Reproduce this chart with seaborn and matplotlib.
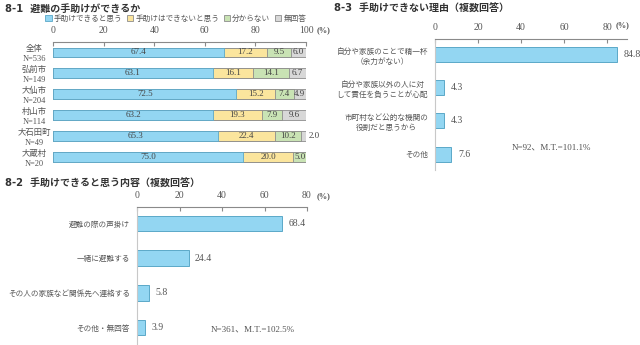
import matplotlib
matplotlib.use("Agg")
import matplotlib.pyplot as plt
from matplotlib.patches import Patch
import numpy as np
import pandas as pd
import seaborn as sns

sns.set_theme(style="white")
plt.rcParams["font.family"] = ["Liberation Serif", "Noto Sans CJK JP", "DejaVu Sans"]

# ---- 8-1 data ----
groups = ["全体\nN=536", "弘前市\nN=149", "大仙市\nN=204",
          "村山市\nN=114", "大石田町\nN=49", "大蔵村\nN=20"]
can_help = [67.4, 63.1, 72.5, 63.2, 65.3, 75.0]
cannot_help = [17.2, 16.1, 15.2, 19.3, 22.4, 20.0]
dont_know = [9.5, 14.1, 7.4, 7.9, 10.2, 5.0]
no_answer = [6.0, 6.7, 4.9, 9.6, 2.0, 0.0]
series_names = ["手助けできると思う", "手助けはできないと思う", "分からない", "無回答"]

# ---- 8-2 data ----
help_items = ["避難の際の声掛け", "一緒に避難する", "その人の家族など関係先へ連絡する", "その他・無回答"]
help_values = [68.4, 24.4, 5.8, 3.9]

# ---- 8-3 data ----
reason_items = ["自分や家族のことで精一杯\n（余力がない）",
                "自分や家族以外の人に対\nして責任を負うことが心配",
                "市町村など公的な機関の\n役割だと思うから",
                "その他"]
reason_values = [84.8, 4.3, 4.3, 7.6]

BLUE = "#93d6f2"
BLUE_EDGE = "#5ba8c8"
YELLOW = "#fbe59d"
GREEN = "#c9e3b4"
GREY = "#d8d8d8"
SEG_EDGE = "#8c8c8c"
TXT = "#555555"
TITLE = "#333333"
AXIS = "#8a8a8a"

W, H = 640, 345
fig = plt.figure(figsize=(W / 100, H / 100), dpi=100)
fig.patch.set_facecolor("white")


def px_axes(left, top, right, bottom):
    return fig.add_axes([left / W, 1 - bottom / H, (right - left) / W, (bottom - top) / H])


def fig_text(x, y, s, **kw):
    return fig.text(x / W, 1 - y / H, s, **kw)


def style_top_axis(ax, xmax, ticks):
    ax.set_xlim(0, xmax)
    ax.xaxis.tick_top()
    ax.set_xticks(ticks)
    ax.set_xticklabels([str(t) for t in ticks])
    ax.tick_params(axis="x", direction="in", length=3, width=0.8, color=AXIS,
                   labelsize=7, labelcolor=TXT, pad=5, top=True, bottom=False)
    for side in ["right", "bottom"]:
        ax.spines[side].set_visible(False)
    ax.spines["top"].set_color(AXIS)
    ax.spines["top"].set_linewidth(0.8)
    ax.set_xlabel("")
    ax.set_ylabel("")
    ax.grid(False)
    ax.set_facecolor("white")


# ---------- 8-1 stacked bars ----------
ax1 = px_axes(53, 42, 306, 167.5)
df1 = pd.DataFrame({"group": groups, "s1": can_help, "s2": cannot_help,
                    "s3": dont_know, "s4": no_answer})
cum = np.cumsum(df1[["s1", "s2", "s3", "s4"]].to_numpy(), axis=1)
colors = [BLUE, YELLOW, GREEN, GREY]
edges = [BLUE_EDGE, SEG_EDGE, SEG_EDGE, SEG_EDGE]
# draw totals from the outermost segment inwards so each layer shows its own span
for k in range(3, -1, -1):
    sns.barplot(x=cum[:, k], y=df1["group"], orient="h", color=colors[k],
                edgecolor=edges[k], linewidth=0.6, width=0.47, saturation=1,
                ax=ax1, zorder=2)
style_top_axis(ax1, 100, [0, 20, 40, 60, 80, 100])
ax1.spines["left"].set_visible(False)
ax1.set_ylim(5.5, -0.5)
ax1.tick_params(axis="y", length=0, pad=13.5, labelsize=6, labelcolor=TXT)
for lab in ax1.get_yticklabels():
    lab.set_horizontalalignment("center")
    lab.set_multialignment("center")
    lab.set_linespacing(1.3)

vals = df1[["s1", "s2", "s3", "s4"]].to_numpy()
for i in range(len(groups)):
    start = 0.0
    for k in range(4):
        v = vals[i, k]
        if v > 0:
            if v >= 3:
                ax1.text(start + v / 2, i, f"{v:.1f}", ha="center", va="center",
                         fontsize=6.5, color="#444444", zorder=5)
            else:
                ax1.text(start + v + 1.2, i, f"{v:.1f}", ha="left", va="center",
                         fontsize=6.5, color="#444444", zorder=5)
        start += v
fig_text(317, 30, "(%)", ha="left", va="center", fontsize=6, color=TXT, fontweight="bold")

handles = [Patch(facecolor=c, edgecolor=e, linewidth=0.6)
           for c, e in zip(colors, [BLUE_EDGE] + [SEG_EDGE] * 3)]
leg = ax1.legend(handles, series_names, loc="center left",
                 bbox_to_anchor=(-0.03, 1 + 23 / 125.5),
                 ncol=4, frameon=False, handlelength=0.8, handleheight=0.8,
                 handletextpad=0.3, columnspacing=0.6, borderaxespad=0, borderpad=0,
                 prop={"family": ["Noto Sans CJK JP"], "size": 5.5})
for t in leg.get_texts():
    t.set_color(TXT)


# ---------- simple horizontal bars ----------
def simple_bars(ax, items, values, xmax, ticks, ylim):
    dfx = pd.DataFrame({"item": items, "value": values})
    sns.barplot(data=dfx, x="value", y="item", orient="h", color=BLUE,
                edgecolor=BLUE_EDGE, linewidth=0.7, width=0.45, saturation=1,
                ax=ax, zorder=2)
    style_top_axis(ax, xmax, ticks)
    ax.spines["left"].set_color("#c8c8c8")
    ax.spines["left"].set_linewidth(0.8)
    ax.set_ylim(*ylim)
    ax.tick_params(axis="y", length=0, pad=5, labelsize=5.5, labelcolor=TXT)
    for lab in ax.get_yticklabels():
        lab.set_multialignment("center")
        lab.set_linespacing(1.4)
    for i, v in enumerate(values):
        ax.text(v + xmax * 0.035, i, f"{v:.1f}", ha="left", va="center",
                fontsize=7, color=TXT)


ax2 = px_axes(137, 207, 307, 345)
simple_bars(ax2, help_items, help_values, 80, [0, 20, 40, 60, 80], (3.5, -0.475))
fig_text(317, 196, "(%)", ha="left", va="center", fontsize=6, color=TXT, fontweight="bold")
fig_text(253, 330, "N=361、M.T.=102.5%", ha="center", va="center",
         fontsize=6.5, color=TXT)

ax3 = px_axes(435, 38.5, 627, 170)
simple_bars(ax3, reason_items, reason_values, 89.3, [0, 20, 40, 60, 80], (3.48, -0.48))
fig_text(616, 25, "(%)", ha="left", va="center", fontsize=6, color=TXT, fontweight="bold")
fig_text(551, 147, "N=92、M.T.=101.1%", ha="center", va="center",
         fontsize=6.5, color=TXT)

# ---------- titles ----------
title_font = dict(family=["DejaVu Sans", "Noto Sans CJK JP"], fontsize=7.2,
                  fontweight="bold", color=TITLE, va="center", ha="left")
fig_text(5, 9, "8-1  避難の手助けができるか", **title_font)
fig_text(334, 9, "8-3  手助けできない理由（複数回答）", **title_font)
fig_text(5, 184, "8-2  手助けできると思う内容（複数回答）", **title_font)

fig.savefig("out.png", dpi=100, facecolor="white")
